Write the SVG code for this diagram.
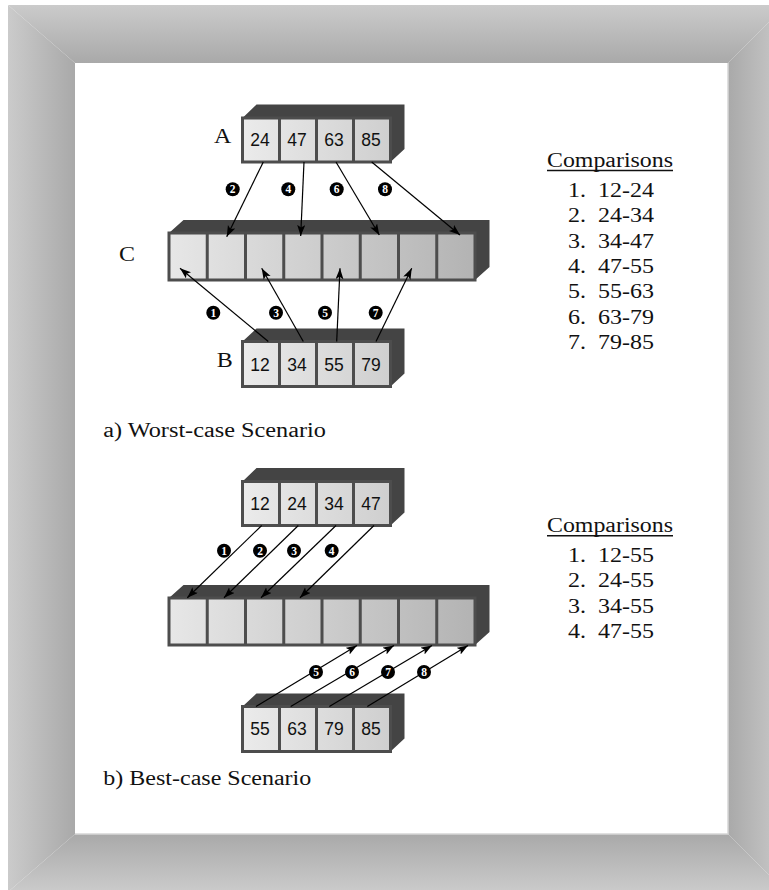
<svg xmlns="http://www.w3.org/2000/svg" width="769" height="890" viewBox="0 0 769 890">
<style>
.serif{font-family:"Liberation Serif","Times New Roman",serif;font-size:20px;fill:#111;white-space:pre}
.num{font-family:"Liberation Sans",Arial,sans-serif;font-size:17.5px;fill:#111;text-anchor:middle}
.back{fill:#444}
.cellline{stroke:#4d4d4d;stroke-width:3;fill:none}
.f4{fill:url(#g4);stroke:#4d4d4d;stroke-width:3}
.f8{fill:url(#g8);stroke:#4d4d4d;stroke-width:3}
.conn line{stroke:#000;stroke-width:1.2;marker-end:url(#ah)}
.badge circle{fill:#000}
.badge text{font-family:"Liberation Serif","Times New Roman",serif;font-weight:bold;font-size:11.5px;fill:#fff;text-anchor:middle}
</style>
<defs>
<marker id="ah" markerUnits="userSpaceOnUse" markerWidth="12" markerHeight="9" refX="11" refY="4" orient="auto">
<path d="M0,0 L11,4 L0,8 L2.5,4 z" fill="#000"/>
</marker>
<linearGradient id="fTop" gradientUnits="userSpaceOnUse" x1="0" y1="5" x2="0" y2="63"><stop offset="0" stop-color="#cbcbcb"/><stop offset="1" stop-color="#a9a9a9"/></linearGradient>
<linearGradient id="fLeft" gradientUnits="userSpaceOnUse" x1="8" y1="0" x2="75" y2="0"><stop offset="0" stop-color="#cbcbcb"/><stop offset="1" stop-color="#a9a9a9"/></linearGradient>
<linearGradient id="fRight" gradientUnits="userSpaceOnUse" x1="728" y1="0" x2="786" y2="0"><stop offset="0" stop-color="#a9a9a9"/><stop offset="1" stop-color="#cbcbcb"/></linearGradient>
<linearGradient id="fBot" gradientUnits="userSpaceOnUse" x1="0" y1="834" x2="0" y2="892"><stop offset="0" stop-color="#a9a9a9"/><stop offset="1" stop-color="#cbcbcb"/></linearGradient>
<linearGradient id="g4" x1="0" y1="0" x2="1" y2="0"><stop offset="0" stop-color="#ebebeb"/><stop offset="1" stop-color="#cfcfcf"/></linearGradient>
<linearGradient id="g8" x1="0" y1="0" x2="1" y2="0"><stop offset="0" stop-color="#e7e7e7"/><stop offset="1" stop-color="#b3b3b3"/></linearGradient>
</defs>

<g id="frame">
<polygon points="8,5 786,5 728,63 75,63" fill="url(#fTop)"/>
<polygon points="8,5 75,63 75,834 8,892" fill="url(#fLeft)"/>
<polygon points="786,5 786,892 728,834 728,63" fill="url(#fRight)"/>
<polygon points="8,892 75,834 728,834 786,892" fill="url(#fBot)"/>
<rect x="75" y="63" width="653" height="771" fill="#fff"/>
<polyline points="728,63 728,834 75,834" fill="none" stroke="#d6d6d6" stroke-width="1.5"/>
</g>

<!-- Worst case -->
<g id="arrayA">
<polygon class="back" points="242.5,118 256.5,104.5 404.5,104.5 404.5,149 390.5,162 390.5,118"/>
<rect x="242.5" y="118" width="148" height="44" class="f4"/>
<path class="cellline" d="M279.5,118V162M316.5,118V162M353.5,118V162"/>
<text class="num" x="260" y="146">24</text>
<text class="num" x="297" y="146">47</text>
<text class="num" x="334" y="146">63</text>
<text class="num" x="371" y="146">85</text>
<text class="serif" x="214" y="142.7" textLength="17.3" lengthAdjust="spacingAndGlyphs">A</text>
</g>

<g id="arrayC">
<polygon class="back" points="169,233 183.5,220 489.5,220 489.5,267 475,280 475,233"/>
<rect x="169" y="233" width="306" height="47" class="f8"/>
<path class="cellline" d="M207.25,233V280M245.5,233V280M283.75,233V280M322,233V280M360.25,233V280M398.5,233V280M436.75,233V280"/>
<text class="serif" x="119" y="261" textLength="16" lengthAdjust="spacingAndGlyphs">C</text>
</g>

<g id="arrayB">
<polygon class="back" points="242.5,341.5 256.5,328.5 404.5,328.5 404.5,373.5 390.5,386.5 390.5,341.5"/>
<rect x="242.5" y="341.5" width="148" height="45" class="f4"/>
<path class="cellline" d="M279.5,341.5V386.5M316.5,341.5V386.5M353.5,341.5V386.5"/>
<text class="num" x="260" y="370.5">12</text>
<text class="num" x="297" y="370.5">34</text>
<text class="num" x="334" y="370.5">55</text>
<text class="num" x="371" y="370.5">79</text>
<text class="serif" x="216.7" y="366.7" textLength="16" lengthAdjust="spacingAndGlyphs">B</text>
</g>

<g id="connectorsWorst" class="conn">
<line x1="263.3" y1="162" x2="226.7" y2="236.7"/>
<line x1="304" y1="162" x2="300.7" y2="236"/>
<line x1="336" y1="162" x2="379.3" y2="235"/>
<line x1="371.7" y1="162" x2="460" y2="235"/>
<line x1="268.3" y1="341.5" x2="180" y2="268.3"/>
<line x1="303.3" y1="341.5" x2="261.7" y2="268.3"/>
<line x1="336.7" y1="341.5" x2="340" y2="268.3"/>
<line x1="376" y1="341.5" x2="411.7" y2="268.3"/>
</g>

<g id="badgesWorst" class="badge">
<circle cx="232.7" cy="189.3" r="7"/><text x="232.7" y="193.3">2</text>
<circle cx="288.3" cy="189.3" r="7"/><text x="288.3" y="193.3">4</text>
<circle cx="336.7" cy="189.3" r="7"/><text x="336.7" y="193.3">6</text>
<circle cx="385" cy="189.3" r="7"/><text x="385" y="193.3">8</text>
<circle cx="213.3" cy="312.7" r="7"/><text x="213.3" y="316.7">1</text>
<circle cx="276" cy="312.7" r="7"/><text x="276" y="316.7">3</text>
<circle cx="325" cy="312.7" r="7"/><text x="325" y="316.7">5</text>
<circle cx="375.7" cy="312.7" r="7"/><text x="375.7" y="316.7">7</text>
</g>

<g id="listWorst">
<text class="serif" x="547" y="166.7" textLength="126" lengthAdjust="spacingAndGlyphs">Comparisons</text>
<line x1="547" y1="170.5" x2="673" y2="170.5" stroke="#111" stroke-width="1.4"/>
<text class="serif" x="568" y="197" textLength="86" lengthAdjust="spacingAndGlyphs">1.  12-24</text>
<text class="serif" x="568" y="222.3" textLength="86" lengthAdjust="spacingAndGlyphs">2.  24-34</text>
<text class="serif" x="568" y="247.6" textLength="86" lengthAdjust="spacingAndGlyphs">3.  34-47</text>
<text class="serif" x="568" y="272.9" textLength="86" lengthAdjust="spacingAndGlyphs">4.  47-55</text>
<text class="serif" x="568" y="298.2" textLength="86" lengthAdjust="spacingAndGlyphs">5.  55-63</text>
<text class="serif" x="568" y="323.5" textLength="86" lengthAdjust="spacingAndGlyphs">6.  63-79</text>
<text class="serif" x="568" y="348.8" textLength="86" lengthAdjust="spacingAndGlyphs">7.  79-85</text>
</g>

<text id="captionA" class="serif" x="103.3" y="436.7" textLength="222.6" lengthAdjust="spacingAndGlyphs">a) Worst-case Scenario</text>

<!-- Best case -->
<g id="arrayA2">
<polygon class="back" points="242.5,481.5 256.5,468 404.5,468 404.5,512.5 390.5,525.5 390.5,481.5"/>
<rect x="242.5" y="481.5" width="148" height="44" class="f4"/>
<path class="cellline" d="M279.5,481.5V525.5M316.5,481.5V525.5M353.5,481.5V525.5"/>
<text class="num" x="260" y="510">12</text>
<text class="num" x="297" y="510">24</text>
<text class="num" x="334" y="510">34</text>
<text class="num" x="371" y="510">47</text>
</g>

<g id="arrayC2">
<polygon class="back" points="169,598 183.5,585 489.5,585 489.5,632 475,645 475,598"/>
<rect x="169" y="598" width="306" height="47" class="f8"/>
<path class="cellline" d="M207.25,598V645M245.5,598V645M283.75,598V645M322,598V645M360.25,598V645M398.5,598V645M436.75,598V645"/>
</g>

<g id="arrayB2">
<polygon class="back" points="242.5,706.5 256.5,693.5 404.5,693.5 404.5,738.5 390.5,751.5 390.5,706.5"/>
<rect x="242.5" y="706.5" width="148" height="45" class="f4"/>
<path class="cellline" d="M279.5,706.5V751.5M316.5,706.5V751.5M353.5,706.5V751.5"/>
<text class="num" x="260" y="735">55</text>
<text class="num" x="297" y="735">63</text>
<text class="num" x="334" y="735">79</text>
<text class="num" x="371" y="735">85</text>
</g>

<g id="connectorsBest" class="conn">
<line x1="261.7" y1="525.5" x2="187.3" y2="597.7"/>
<line x1="298.3" y1="525.5" x2="224" y2="597.7"/>
<line x1="336" y1="525.5" x2="261" y2="597.7"/>
<line x1="374" y1="525.5" x2="300" y2="597.7"/>
<line x1="256" y1="706.5" x2="357" y2="645.5"/>
<line x1="290.7" y1="706.5" x2="394" y2="645.5"/>
<line x1="329.3" y1="706.5" x2="432" y2="645.5"/>
<line x1="367.3" y1="706.5" x2="468" y2="645.5"/>
</g>

<g id="badgesBest" class="badge">
<circle cx="224" cy="550.7" r="7"/><text x="224" y="554.7">1</text>
<circle cx="260" cy="550.7" r="7"/><text x="260" y="554.7">2</text>
<circle cx="294" cy="550.7" r="7"/><text x="294" y="554.7">3</text>
<circle cx="331.7" cy="550.7" r="7"/><text x="331.7" y="554.7">4</text>
<circle cx="316" cy="672" r="7"/><text x="316" y="676">5</text>
<circle cx="352" cy="672" r="7"/><text x="352" y="676">6</text>
<circle cx="388" cy="672" r="7"/><text x="388" y="676">7</text>
<circle cx="424" cy="672" r="7"/><text x="424" y="676">8</text>
</g>

<g id="listBest">
<text class="serif" x="547" y="532" textLength="126" lengthAdjust="spacingAndGlyphs">Comparisons</text>
<line x1="547" y1="535.8" x2="673" y2="535.8" stroke="#111" stroke-width="1.4"/>
<text class="serif" x="568" y="562" textLength="86" lengthAdjust="spacingAndGlyphs">1.  12-55</text>
<text class="serif" x="568" y="587.3" textLength="86" lengthAdjust="spacingAndGlyphs">2.  24-55</text>
<text class="serif" x="568" y="612.6" textLength="86" lengthAdjust="spacingAndGlyphs">3.  34-55</text>
<text class="serif" x="568" y="637.9" textLength="86" lengthAdjust="spacingAndGlyphs">4.  47-55</text>
</g>

<text id="captionB" class="serif" x="103.3" y="785" textLength="208" lengthAdjust="spacingAndGlyphs">b) Best-case Scenario</text>
</svg>
